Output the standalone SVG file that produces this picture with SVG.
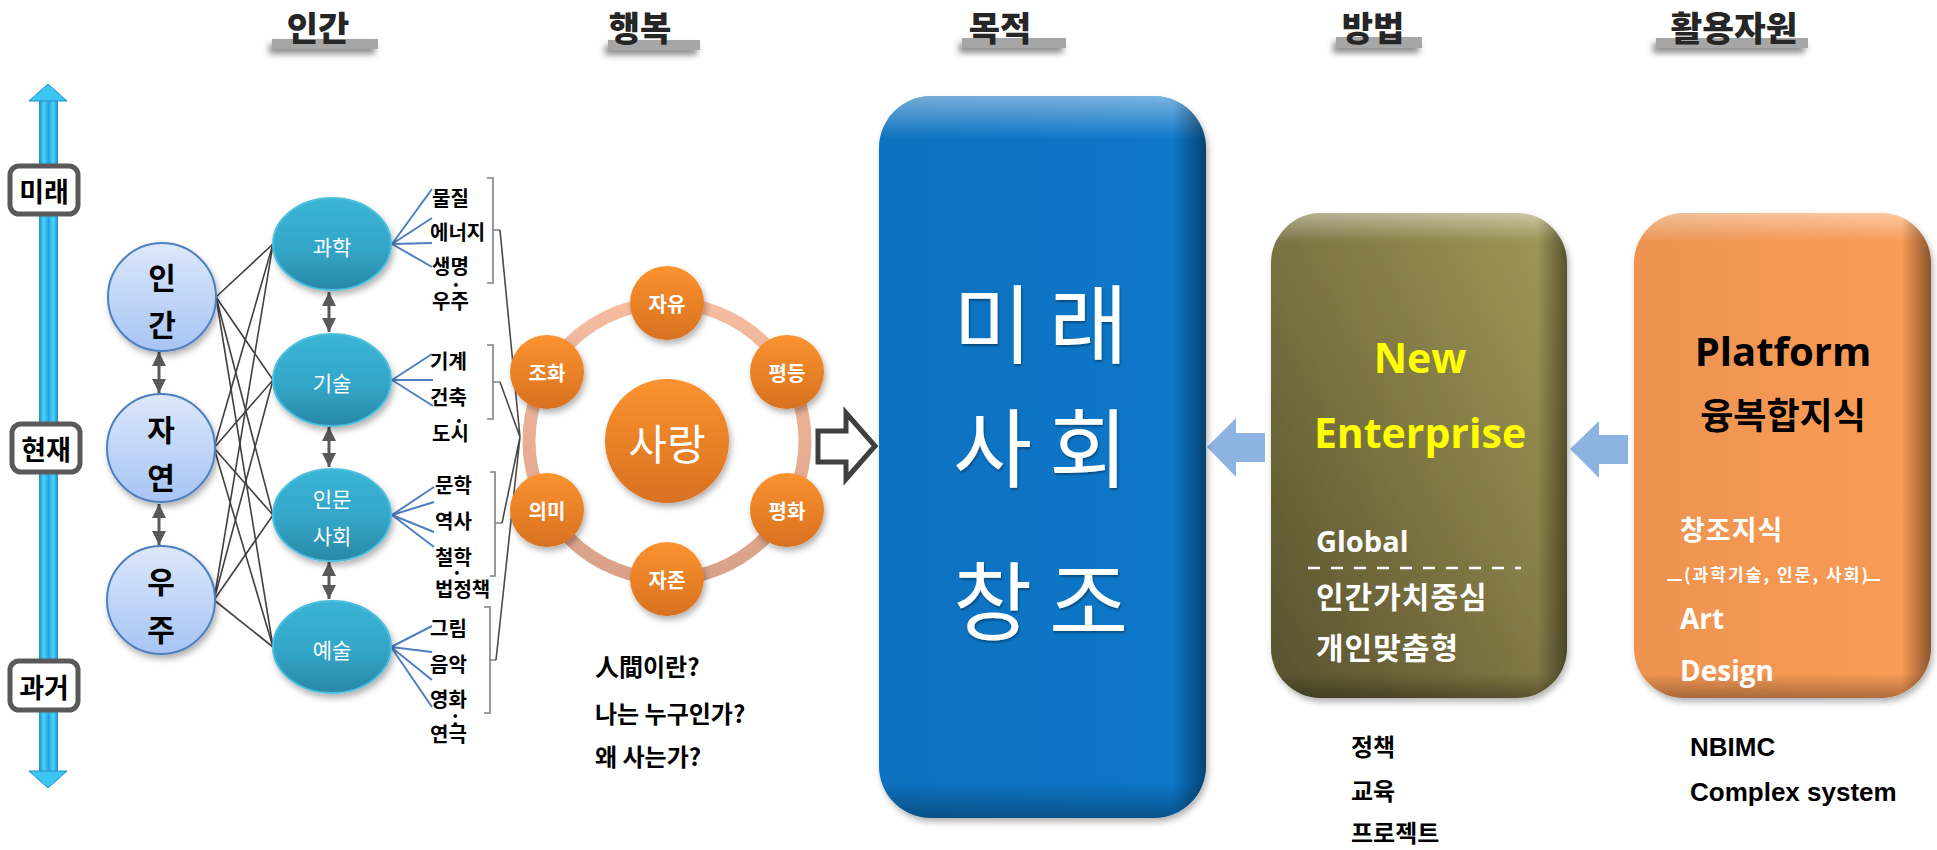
<svg xmlns="http://www.w3.org/2000/svg" width="1937" height="850" viewBox="0 0 1937 850">
<defs>
  <linearGradient id="gCircle" x1="0" y1="0" x2="0" y2="1">
    <stop offset="0" stop-color="#dde8fb"/><stop offset="1" stop-color="#a6c4f4"/>
  </linearGradient>
  <linearGradient id="gTeal" x1="0" y1="0" x2="0" y2="1">
    <stop offset="0" stop-color="#3bb4d6"/><stop offset="0.55" stop-color="#33a6c8"/><stop offset="1" stop-color="#2a88a6"/>
  </linearGradient>
  <linearGradient id="gOrange" x1="0" y1="0" x2="0" y2="1">
    <stop offset="0" stop-color="#fb9330"/><stop offset="1" stop-color="#d8711f"/>
  </linearGradient>
  <linearGradient id="gRing" x1="0" y1="0" x2="0" y2="1">
    <stop offset="0" stop-color="#f6bca0"/><stop offset="1" stop-color="#d9a188"/>
  </linearGradient>
  <linearGradient id="gShaft" x1="0" y1="0" x2="1" y2="0">
    <stop offset="0" stop-color="#1c8fc4"/><stop offset="0.25" stop-color="#4fd2ff"/><stop offset="0.5" stop-color="#1fa6dc"/><stop offset="0.75" stop-color="#4fd2ff"/><stop offset="1" stop-color="#1c8fc4"/>
  </linearGradient>
  <linearGradient id="gOlive" x1="0" y1="1" x2="1" y2="0">
    <stop offset="0" stop-color="#5b5530"/><stop offset="0.5" stop-color="#837945"/><stop offset="1" stop-color="#a29a58"/>
  </linearGradient>
  <linearGradient id="gBevel" x1="0" y1="0" x2="0" y2="1">
    <stop offset="0" stop-color="#ffffff" stop-opacity="0.45"/><stop offset="0.06" stop-color="#ffffff" stop-opacity="0"/><stop offset="0.95" stop-color="#000" stop-opacity="0"/><stop offset="1" stop-color="#000" stop-opacity="0.3"/>
  </linearGradient>
  <linearGradient id="gBevelH" x1="0" y1="0" x2="1" y2="0">
    <stop offset="0" stop-color="#000" stop-opacity="0.05"/><stop offset="0.9" stop-color="#000" stop-opacity="0"/><stop offset="1" stop-color="#000" stop-opacity="0.45"/>
  </linearGradient>
  <filter id="sh" x="-20%" y="-20%" width="150%" height="150%">
    <feDropShadow dx="2" dy="4" stdDeviation="3" flood-color="#000" flood-opacity="0.3"/>
  </filter>
  <filter id="barSh" x="-10%" y="-50%" width="120%" height="300%">
    <feDropShadow dx="-3" dy="5" stdDeviation="3" flood-color="#000" flood-opacity="0.45"/>
  </filter>
  <filter id="txtSh" x="-10%" y="-10%" width="130%" height="130%">
    <feDropShadow dx="1" dy="2" stdDeviation="1" flood-color="#000" flood-opacity="0.35"/>
  </filter>
  <marker id="ah" viewBox="0 0 10 10" refX="10" refY="5" markerWidth="14" markerHeight="14" markerUnits="userSpaceOnUse" orient="auto-start-reverse">
    <path d="M0,0 L10,5 L0,10 z" fill="#595959"/>
  </marker>
</defs>
<style>
  .kr{font-family:'Noto Sans CJK KR','Noto Sans',sans-serif}
  .hd{font-family:'Noto Sans CJK KR',sans-serif;font-weight:900;font-size:34px;fill:#262626;text-anchor:middle}
  .bar{fill:#a6a6a6;filter:url(#barSh)}
  .tl{font-family:'Noto Sans CJK KR',sans-serif;font-weight:700;font-size:27px;fill:#000;text-anchor:middle;dominant-baseline:central}
  .tlbox{fill:#fff;stroke:#595959;stroke-width:5}
  .circ{fill:url(#gCircle);stroke:#4f7fc0;stroke-width:2;filter:url(#sh)}
  .ct{font-family:'Noto Sans CJK KR',sans-serif;font-weight:700;font-size:30px;fill:#000;text-anchor:middle;dominant-baseline:central}
  .teal{fill:url(#gTeal);stroke:#4cbfe0;stroke-width:2;filter:url(#sh)}
  .tt{font-family:'Noto Sans CJK KR',sans-serif;font-size:21px;fill:#fff;text-anchor:middle;dominant-baseline:central}
  .term{font-family:'Noto Sans CJK KR',sans-serif;font-weight:700;font-size:20px;fill:#000;dominant-baseline:central}
  .cross{stroke:#404040;stroke-width:1.6;fill:none}
  .fan{stroke:#4f7fc0;stroke-width:2;fill:none}
  .brk{stroke:#7f7f7f;stroke-width:1.6;fill:none}
  .conv{stroke:#4a4a4a;stroke-width:1.6;fill:none}
  .dbl{stroke:#595959;stroke-width:3;marker-start:url(#ah);marker-end:url(#ah)}
  .orb{fill:url(#gOrange);filter:url(#sh)}
  .ot{font-family:'Noto Sans CJK KR',sans-serif;font-weight:700;font-size:20px;fill:#fff;text-anchor:middle;dominant-baseline:central}
  .q{font-family:'Noto Sans CJK KR',sans-serif;font-weight:700;font-size:24px;fill:#000;dominant-baseline:central}
  .big{font-family:'Noto Sans CJK KR',sans-serif;font-size:86px;fill:#fff;text-anchor:middle;dominant-baseline:central;letter-spacing:17px;filter:url(#txtSh)}
  .lat{font-family:'Open Sans','Noto Sans',sans-serif;font-weight:700}
  .wt{fill:#fff;dominant-baseline:central}
  .bl{font-family:'Liberation Sans',Arial,sans-serif;font-weight:700;font-size:26px;fill:#000;dominant-baseline:central}
</style>

<!-- headers -->
<g id="headers">
  <rect class="bar" x="272" y="39" width="106" height="10"/>
  <text class="hd" x="318" y="41">인간</text>
  <rect class="bar" x="608" y="40" width="92" height="10"/>
  <text class="hd" x="640" y="41">행복</text>
  <rect class="bar" x="962" y="38" width="104" height="10"/>
  <text class="hd" x="1000" y="41">목적</text>
  <rect class="bar" x="1336" y="37" width="86" height="11"/>
  <text class="hd" x="1373" y="41">방법</text>
  <rect class="bar" x="1656" y="38" width="152" height="10"/>
  <text class="hd" x="1734" y="41" textLength="127" lengthAdjust="spacingAndGlyphs">활용자원</text>
</g>

<!-- timeline -->
<g id="timeline">
  <rect x="39" y="100" width="19" height="672" fill="url(#gShaft)"/>
  <path d="M48,84 L67,101 L29,101 z" fill="#3cc4f2" stroke="#1c8fc4" stroke-width="1"/>
  <path d="M48,788 L67,771 L29,771 z" fill="#3cc4f2" stroke="#1c8fc4" stroke-width="1"/>
</g>
<g id="label-future"><rect class="tlbox" x="10" y="166" width="68" height="48" rx="9"/><text class="tl" x="44" y="190">미래</text></g>
<g id="label-present"><rect class="tlbox" x="12" y="424" width="68" height="48" rx="9"/><text class="tl" x="46" y="448">현재</text></g>
<g id="label-past"><rect class="tlbox" x="10" y="661" width="68" height="49" rx="9"/><text class="tl" x="44" y="686">과거</text></g>

<!-- connectors -->
<g id="connectors">
  <line class="cross" x1="216" y1="297" x2="273" y2="244"/>
  <line class="cross" x1="216" y1="297" x2="273" y2="380"/>
  <line class="cross" x1="216" y1="297" x2="273" y2="515"/>
  <line class="cross" x1="216" y1="297" x2="273" y2="647"/>
  <line class="cross" x1="214" y1="448" x2="273" y2="244"/>
  <line class="cross" x1="214" y1="448" x2="273" y2="380"/>
  <line class="cross" x1="214" y1="448" x2="273" y2="515"/>
  <line class="cross" x1="214" y1="448" x2="273" y2="647"/>
  <line class="cross" x1="214" y1="600" x2="273" y2="244"/>
  <line class="cross" x1="214" y1="600" x2="273" y2="380"/>
  <line class="cross" x1="214" y1="600" x2="273" y2="515"/>
  <line class="cross" x1="214" y1="600" x2="273" y2="647"/>

  <line class="dbl" x1="159" y1="352" x2="159" y2="393"/>
  <line class="dbl" x1="159" y1="504" x2="159" y2="545"/>
  <line class="dbl" x1="329" y1="292" x2="329" y2="332"/>
  <line class="dbl" x1="329" y1="427" x2="329" y2="467"/>
  <line class="dbl" x1="329" y1="562" x2="329" y2="599"/>

  <path class="fan" d="M392,244 L432,189 M392,244 L432,218 M392,244 L432,243 M392,244 L432,267"/>
  <path class="fan" d="M392,380 L432,354 M392,380 L433,380 M392,380 L433,406"/>
  <path class="fan" d="M392,515 L434,487 M392,515 L434,502 M392,515 L434,532 M392,515 L434,547"/>
  <path class="fan" d="M391,647 L432,626 M391,647 L432,652 M391,647 L432,680 M391,647 L432,707"/>

  <path class="brk" d="M487,178 L493,178 L493,283 L487,283 M493,230 L500,230"/>
  <path class="brk" d="M487,345 L493,345 L493,419 L487,419 M493,382 L500,382"/>
  <path class="brk" d="M490,472 L495,472 L495,576 L490,576 M495,523 L502,523"/>
  <path class="brk" d="M484,607 L490,607 L490,713 L484,713 M490,660 L496,660"/>

  <path class="conv" d="M500,230 L520,437 M500,382 L520,437 M502,523 L520,437 M496,660 L520,437"/>

  <path id="hollow-arrow" d="M818,431 L846,431 L846,413 L875,446 L846,479 L846,462 L818,462 z" fill="#fff" stroke="#3f3f3f" stroke-width="5" stroke-linejoin="miter"/>
  <path id="arrow-method" d="M1207,447 L1236,418 L1236,433 L1265,433 L1265,462 L1236,462 L1236,477 z" fill="#8db3e2"/>
  <path id="arrow-resource" d="M1570,449 L1599,421 L1599,435 L1628,435 L1628,464 L1599,464 L1599,478 z" fill="#8db3e2"/>
</g>

<!-- left circles -->
<g id="node-ingan"><circle class="circ" cx="162" cy="297" r="54"/><text class="ct" x="162" y="276">인</text><text class="ct" x="162" y="323">간</text></g>
<g id="node-jayeon"><circle class="circ" cx="161" cy="448" r="54"/><text class="ct" x="161" y="428">자</text><text class="ct" x="161" y="476">연</text></g>
<g id="node-uju"><circle class="circ" cx="161" cy="600" r="54"/><text class="ct" x="161" y="580">우</text><text class="ct" x="161" y="628">주</text></g>

<!-- teal ellipses -->
<g id="node-science"><ellipse class="teal" cx="332" cy="244" rx="59" ry="46"/><text class="tt" x="332" y="246">과학</text></g>
<g id="node-tech"><ellipse class="teal" cx="332" cy="380" rx="59" ry="46"/><text class="tt" x="332" y="382">기술</text></g>
<g id="node-human"><ellipse class="teal" cx="332" cy="515" rx="59" ry="46"/><text class="tt" x="332" y="498">인문</text><text class="tt" x="332" y="535">사회</text></g>
<g id="node-art"><ellipse class="teal" cx="332" cy="647" rx="59" ry="46"/><text class="tt" x="332" y="649">예술</text></g>

<!-- terms -->
<g id="terms">
  <text class="term" x="432" y="197">물질</text>
  <text class="term" x="430" y="231">에너지</text>
  <text class="term" x="432" y="265">생명</text>
  <text class="term" x="450" y="283" font-size="14">·</text>
  <text class="term" x="432" y="300">우주</text>
  <text class="term" x="430" y="360">기계</text>
  <text class="term" x="430" y="396">건축</text>
  <text class="term" x="453" y="419" font-size="14">·</text>
  <text class="term" x="432" y="432">도시</text>
  <text class="term" x="435" y="484">문학</text>
  <text class="term" x="435" y="520">역사</text>
  <text class="term" x="435" y="556">철학</text>
  <text class="term" x="451" y="571" font-size="14">·</text>
  <text class="term" x="435" y="588" font-size="16">법정책</text>
  <text class="term" x="430" y="627">그림</text>
  <text class="term" x="430" y="663">음악</text>
  <text class="term" x="430" y="698">영화</text>
  <text class="term" x="452" y="717" font-size="14">:</text>
  <text class="term" x="430" y="733">연극</text>
</g>

<!-- happiness ring -->
<g id="ring"><circle cx="667" cy="441" r="138" fill="none" stroke="url(#gRing)" stroke-width="13"/></g>
<g id="node-love"><circle class="orb" cx="667" cy="441" r="62"/><text x="667" y="441" font-family="'Noto Sans CJK KR',sans-serif" font-size="42" fill="#fff" text-anchor="middle" dominant-baseline="central">사랑</text></g>
<g id="node-freedom"><circle class="orb" cx="667" cy="303" r="37"/><text class="ot" x="667" y="303">자유</text></g>
<g id="node-equality"><circle class="orb" cx="787" cy="372" r="37"/><text class="ot" x="787" y="372">평등</text></g>
<g id="node-peace"><circle class="orb" cx="787" cy="510" r="37"/><text class="ot" x="787" y="510">평화</text></g>
<g id="node-dignity"><circle class="orb" cx="667" cy="579" r="37"/><text class="ot" x="667" y="579">자존</text></g>
<g id="node-meaning"><circle class="orb" cx="547" cy="510" r="37"/><text class="ot" x="547" y="510">의미</text></g>
<g id="node-harmony"><circle class="orb" cx="547" cy="372" r="37"/><text class="ot" x="547" y="372">조화</text></g>

<g id="questions">
  <text class="q" x="595" y="665">人間이란?</text>
  <text class="q" x="595" y="712">나는 누구인가?</text>
  <text class="q" x="595" y="755">왜 사는가?</text>
</g>

<!-- purpose box -->
<g id="node-purpose">
  <rect x="879" y="96" width="327" height="722" rx="52" fill="#0a77c9" filter="url(#sh)"/>
  <rect x="879" y="96" width="327" height="722" rx="52" fill="url(#gBevel)"/>
  <rect x="879" y="96" width="327" height="722" rx="52" fill="url(#gBevelH)"/>
  <text class="big" x="1049" y="319">미래</text>
  <text class="big" x="1049" y="443">사회</text>
  <text class="big" x="1049" y="596">창조</text>
</g>

<!-- method box -->
<g id="node-method">
  <rect x="1271" y="213" width="296" height="485" rx="50" fill="url(#gOlive)" filter="url(#sh)"/>
  <rect x="1271" y="213" width="296" height="485" rx="50" fill="url(#gBevel)"/>
  <rect x="1271" y="213" width="296" height="485" rx="50" fill="url(#gBevelH)"/>
  <text class="lat" x="1420" y="357" font-size="41" fill="#ffff00" text-anchor="middle" dominant-baseline="central">New</text>
  <text class="lat" x="1420" y="432" font-size="41" fill="#ffff00" text-anchor="middle" dominant-baseline="central">Enterprise</text>
  <text class="lat wt" x="1316" y="540" font-size="29">Global</text>
  <line x1="1308" y1="568" x2="1521" y2="568" stroke="#fff" stroke-width="2.5" stroke-dasharray="12,11"/>
  <text class="kr wt" x="1316" y="595" font-size="30" font-weight="700" letter-spacing="1">인간가치중심</text>
  <text class="kr wt" x="1316" y="646" font-size="30" font-weight="700" letter-spacing="1">개인맞춤형</text>
</g>

<!-- resource box -->
<g id="node-resource">
  <rect x="1634" y="213" width="297" height="485" rx="50" fill="#f99b55" filter="url(#sh)"/>
  <rect x="1634" y="213" width="297" height="485" rx="50" fill="url(#gBevel)"/>
  <rect x="1634" y="213" width="297" height="485" rx="50" fill="url(#gBevelH)"/>
  <text class="lat" x="1783" y="350" font-size="40" fill="#000" text-anchor="middle" dominant-baseline="central">Platform</text>
  <text class="kr" x="1783" y="413" font-size="36" font-weight="700" fill="#000" text-anchor="middle" dominant-baseline="central">융복합지식</text>
  <text class="kr wt" x="1680" y="528" font-size="27" font-weight="700" letter-spacing="1">창조지식</text>
  <text class="kr wt" x="1684" y="573" font-size="17" font-weight="700" textLength="184" lengthAdjust="spacing">(과학기술, 인문, 사회)</text>
  <path d="M1667,580 L1682,580 M1866,580 L1880,580" stroke="#fff" stroke-width="2"/>
  <text class="lat wt" x="1680" y="618" font-size="28">Art</text>
  <text class="lat wt" x="1680" y="670" font-size="28">Design</text>
</g>

<g id="method-list">
  <text class="q" x="1351" y="745">정책</text>
  <text class="q" x="1351" y="789">교육</text>
  <text class="q" x="1351" y="831">프로젝트</text>
</g>
<g id="resource-list">
  <text class="bl" x="1690" y="747">NBIMC</text>
  <text class="bl" x="1690" y="792">Complex system</text>
</g>
</svg>
